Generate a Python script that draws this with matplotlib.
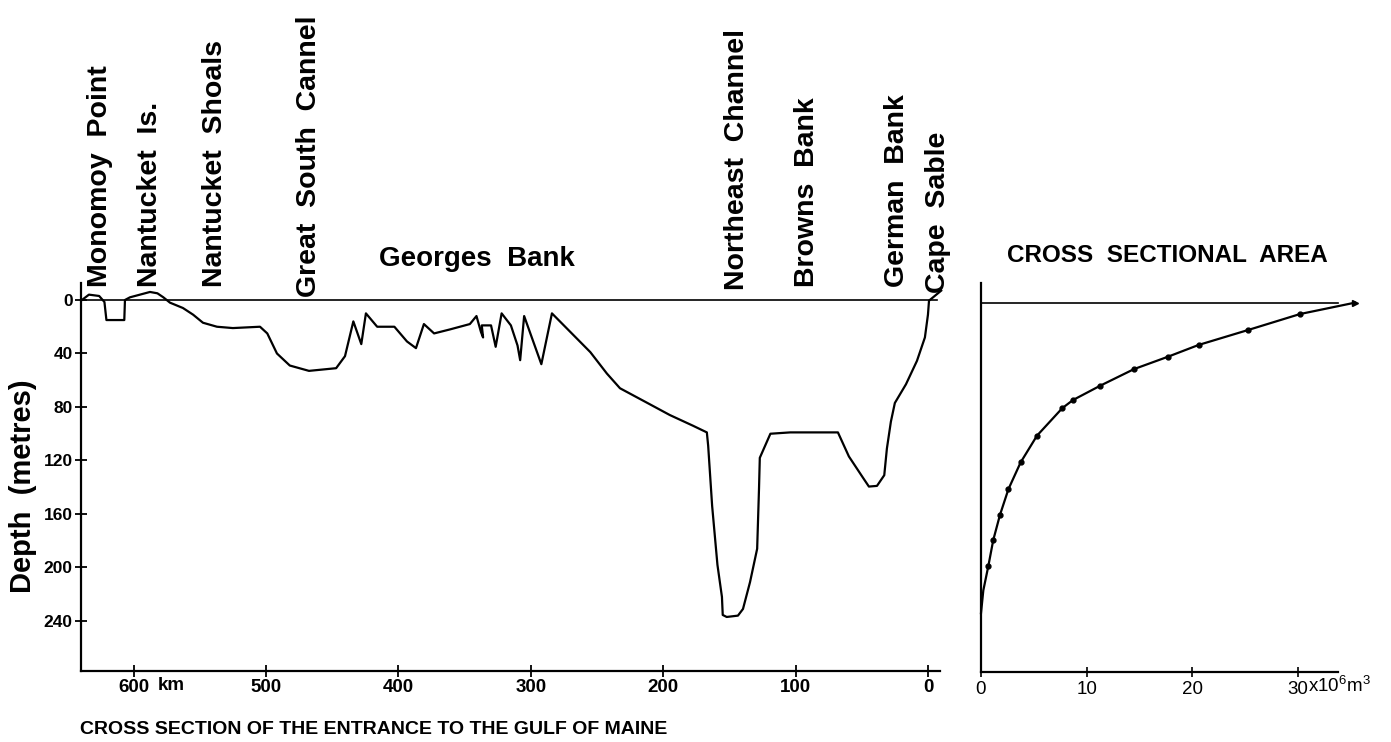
import matplotlib.pyplot as plt

# sea floor along the section: distance from Cape Sable (km) and depth (m)
profile_km = [639, 633.7, 626, 622, 620.5, 607, 606.5, 602.7, 587.6, 582, 577.5,
              572.5, 562.7, 555, 547.6, 537, 525, 504.5, 499, 491.7, 482, 467.5, 447,
              440.3, 434, 428, 424.5, 416, 403, 393.5, 386.7, 380.7, 373, 361, 346,
              341, 337.6, 336, 337, 330, 326.5, 322, 315, 310, 308, 305, 292, 284,
              270, 255, 242.5, 232.6,
              210, 195, 177.5, 167, 166, 163, 159, 155.6, 155, 152, 143.5, 139.7,
              134.4, 129, 127.6, 127, 123, 119, 104, 68, 59.7, 49, 44.6, 38.5, 33,
              31, 28, 25, 16.6, 8.3, 2.3, 0, -0.8, -10]
profile_depth = [0, -4, -3, 1.5, 15, 15, 0, -2, -6, -5, -2,
                 2, 6, 11, 17, 20, 21, 20, 25, 40, 49, 53, 51,
                 42, 16, 33, 10, 20, 20, 31, 36, 18, 25, 22, 18,
                 12, 24, 28, 19, 19, 35, 10, 19, 34, 45, 12, 48, 10,
                 24, 39, 55, 66,
                 78, 86, 94, 99, 109, 154, 198, 222, 235.5, 237, 236, 231,
                 211, 186, 141, 118, 109, 100, 99, 99, 117, 133, 139.5, 139, 131,
                 111, 91, 77, 63, 45.5, 28, 11, 0.5, -7]

# place names (km position, depth of label foot)
place_names = ['Monomoy  Point', 'Nantucket  Is.', 'Nantucket  Shoals',
               'Great  South  Cannel', 'Northeast  Channel', 'Browns  Bank',
               'German  Bank', 'Cape  Sable']
place_km = [625.4, 587.6, 538.5, 467.5, 144, 91.4, 23.4, -7.6]
place_foot = [-9.7, -9.7, -9.7, -2.2, -7.5, -9.7, -9.7, -5.2]

km_ticks = [600, 500, 400, 300, 200, 100, 0]
depth_ticks = [0, 40, 80, 120, 160, 200, 240]

# cross sectional area below each depth (10^6 m^3)
area_line = [35.4, 30.2, 25.3, 20.6, 17.7, 14.5, 11.3, 8.7, 7.7, 5.3, 3.75, 2.6,
             1.8, 1.16, 0.7, 0.22, 0]
area_line_depth = [0, 8.5, 20.4, 31.6, 40.4, 49.6, 62, 72.8, 78.8, 99.4, 119.4,
                   139.3, 158.5, 177.4, 196.6, 215, 232]
area_dots = area_line[1:15]
area_dots_depth = area_line_depth[1:15]
area_ticks = [0, 10, 20, 30]

W, H = 1391, 742
bold = dict(family='Liberation Sans', weight='bold')

fig = plt.figure(figsize=(W / 100, H / 100), dpi=100)
ax = fig.add_axes([81 / W, 71 / H, 859 / W, 388 / H])
ax2 = fig.add_axes([981 / W, 70 / H, 357 / W, 389 / H])

# --- left: the section
ax.plot(profile_km, profile_depth, color='k', lw=1.6, clip_on=False,
        solid_joinstyle='round')
ax.plot([639.7, -6.8], [0, 0], color='k', lw=1.2, clip_on=False)
ax.set_xlim(639.7, -9.1)
ax.set_ylim(277.4, -12.7)

for sp in ['top', 'right']:
    ax.spines[sp].set_visible(False)
for sp in ['left', 'bottom']:
    ax.spines[sp].set_linewidth(1.6)

ax.set_xticks(km_ticks)
ax.set_xticklabels([str(k) for k in km_ticks], fontsize=13.5, **bold)
ax.set_yticks(depth_ticks)
ax.set_yticklabels([str(d) for d in depth_ticks], fontsize=12.5, **bold)
ax.tick_params(direction='inout', length=8, width=1.3, pad=2)
ax.annotate('km', xy=(600, 0), xycoords=('data', 'axes fraction'),
            xytext=(17.5, -13.7), textcoords='offset points',
            ha='left', va='baseline', fontsize=13.5, **bold)

for name, km, foot in zip(place_names, place_km, place_foot):
    ax.text(km, foot, name, rotation=90, ha='center', va='bottom',
            fontsize=20.5, clip_on=False, **bold)
ax.text(340.6, -31, 'Georges  Bank', ha='center', va='center', fontsize=20, **bold)

fig.text(23 / W, 1 - 486 / H, 'Depth  (metres)', rotation=90, ha='center',
         va='center', fontsize=21, **bold)
fig.text(80 / W, 1 - 730 / H, 'CROSS SECTION OF THE ENTRANCE TO THE GULF OF MAINE',
         ha='left', va='center', fontsize=14, **bold)

# --- right: cross sectional area
ax2.plot(area_line, area_line_depth, color='k', lw=1.6, clip_on=False)
ax2.plot(area_dots, area_dots_depth, 'o', color='k', ms=3.5, clip_on=False)
ax2.plot(area_line[0], area_line_depth[0], '>', color='k', ms=5, clip_on=False)
ax2.plot([0, 33.8], [0, 0], color='k', lw=1.2, clip_on=False)
ax2.set_xlim(0, 33.8)
ax2.set_ylim(276, -14.7)
for sp in ['top', 'right']:
    ax2.spines[sp].set_visible(False)
for sp in ['left', 'bottom']:
    ax2.spines[sp].set_linewidth(1.6)
ax2.set_yticks([])
ax2.set_xticks(area_ticks)
ax2.set_xticklabels([str(a) for a in area_ticks], family='Liberation Sans',
                    fontsize=13.5)
ax2.tick_params(direction='inout', length=7, width=1.2, pad=3)
ax2.annotate(r'x10$^{\mathregular{6}}$m$^{\mathregular{3}}$', xy=(30, 0),
             xycoords=('data', 'axes fraction'), xytext=(7.5, -14.2),
             textcoords='offset points', ha='left', va='baseline',
             family='Liberation Sans', fontsize=13.5)
ax2.set_title('CROSS  SECTIONAL  AREA', fontsize=17.5, pad=15, x=0.522, **bold)

fig.savefig('out.png', dpi=100)
